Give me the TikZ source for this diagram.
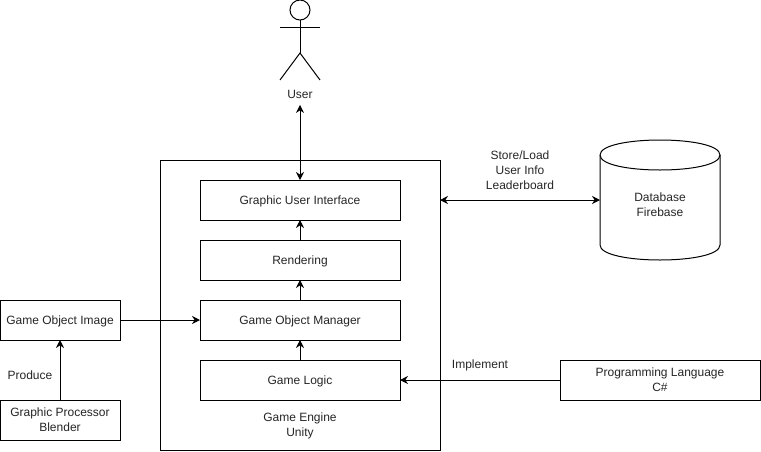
\documentclass[tikz,border=0pt]{standalone}
\usepackage{fontspec}
\setmainfont{Liberation Sans}
\usepackage{tikz}
\usetikzlibrary{arrows.meta}

\tikzset{
    box/.style={draw, line width=0.75pt, fill=white, outer sep=0pt, inner sep=0pt, align=center, text depth=0pt, font=\fontsize{9}{11.25}\selectfont, text=black!85},
    smallbox/.style={box, minimum width=90pt, minimum height=30pt},
    layerbox/.style={box, minimum width=150pt, minimum height=30pt},
    label/.style={align=center, inner sep=0pt, font=\fontsize{9}{11.25}\selectfont, text=black!85},
    conn/.style={line width=0.75pt, -{Stealth[length=6pt,width=6pt]}},
    biconn/.style={line width=0.75pt, {Stealth[length=6pt,width=6pt]}-{Stealth[length=6pt,width=6pt]}},
}

\begin{document}
\begin{tikzpicture}[x=0.75pt, y=-0.75pt]
    \useasboundingbox (0,0) rectangle (761,451);

    % actor
    \coordinate (neck) at (300,20);
    \coordinate (hip) at (300,53);
    \draw[line width=0.75pt] (300,10) circle (10);
    \draw[line width=0.75pt] (neck) -- (hip);
    \draw[line width=0.75pt] (280,27) -- (320,27);
    \draw[line width=0.75pt] (280,80) -- (hip) -- (320,80);
    \node[label, minimum height=16pt] (user) at (300,94) {User};

    % game engine
    \node[box, minimum width=210pt, minimum height=217.5pt] (engine) at (300,305) {};
    \node[label] (enginetext) at (300,426) {Game Engine\\Unity};
    \node[layerbox] (gui) at (300,200) {Graphic User Interface};
    \node[layerbox] (render) at (300,260) {Rendering};
    \node[layerbox] (manager) at (300,320) {Game Object Manager};
    \node[layerbox] (logic) at (300,380) {Game Logic};

    % left side
    \node[smallbox] (image) at (60,320) {Game Object Image};
    \node[smallbox] (blender) at (60,420) {Graphic Processor\\Blender};

    % right side
    \node[box, minimum width=150pt, minimum height=30pt] (lang) at (660,380) {Programming Language\\C\#};

    % database
    \draw[line width=0.75pt, fill=white] (600,155) .. controls (600,135) and (720,135) .. (720,155)
        -- (720,245) .. controls (720,265) and (600,265) .. (600,245) -- cycle;
    \draw[line width=0.75pt] (600,155) .. controls (600,175) and (720,175) .. (720,155);
    \node[minimum width=90pt, minimum height=90pt, inner sep=0pt, outer sep=0pt] (db) at (660,200) {};
    \node[label] (dbtext) at (660,205) {Database\\Firebase};

    % connectors
    \draw[biconn] (user.south) -- (gui.north);
    \draw[conn] (render) -- (gui);
    \draw[conn] (manager) -- (render);
    \draw[conn] (logic) -- (manager);
    \draw[conn] (image) -- (manager);
    \draw[conn] (blender) -- (image);
    \draw[conn] (lang) -- (logic);
    \draw[biconn] (engine.east |- db.west) -- (db.west);

    % connector labels
    \node[label] (storetext) at (520,170.5) {Store/Load\\User Info\\Leaderboard};
    \node[label] (implementtext) at (480,365.5) {Implement};
    \node[label] (producetext) at (30,375.5) {Produce};
\end{tikzpicture}
\end{document}
